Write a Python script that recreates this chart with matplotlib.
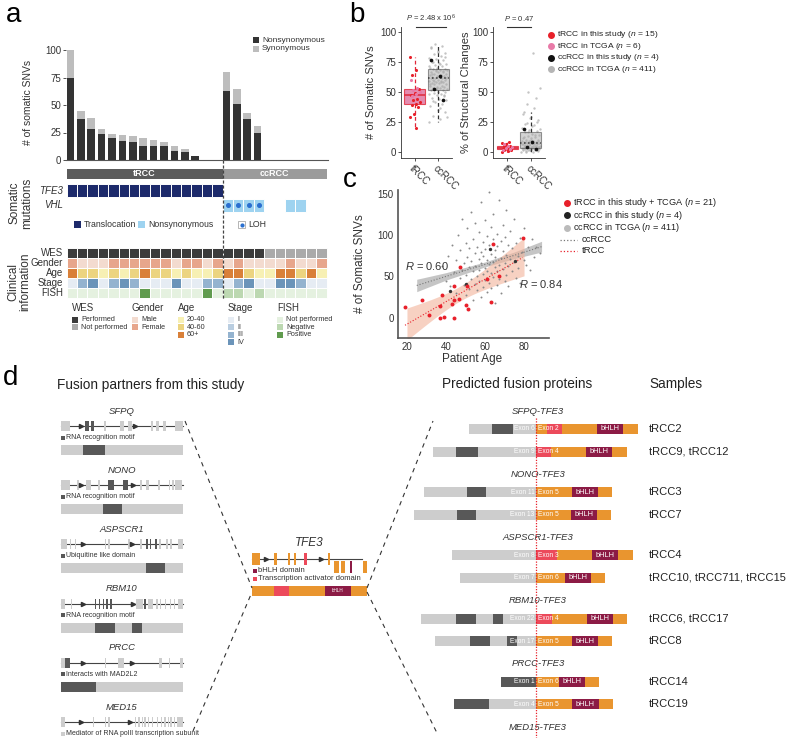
import numpy as np
import matplotlib
matplotlib.use("Agg")
import matplotlib.pyplot as plt
from matplotlib.patches import Rectangle

plt.rcParams['font.family'] = ['Liberation Sans', 'DejaVu Sans']
plt.rcParams['mathtext.fontset'] = 'custom'
plt.rcParams['mathtext.rm'] = 'Liberation Sans'
plt.rcParams['mathtext.it'] = 'Liberation Sans:italic'

# ---------------- panel a data ----------------
nonsyn = [75, 37, 28, 24, 20, 17, 16, 13, 13, 13, 8, 7, 4, 0, 0,
          63, 51, 37, 25, 0, 0, 0, 0, 0, 0]
syn = [25, 8, 10, 4, 4, 6, 6, 7, 5, 3, 5, 3, 0, 0, 0,
       17, 14, 6, 6, 0, 0, 0, 0, 0, 0]
n_trcc = 15
tfe3_transloc = [1] * 15 + [0] * 10
vhl_nonsyn = [0] * 15 + [1, 1, 1, 1, 0, 0, 1, 1, 0, 0]
vhl_loh = [0] * 15 + [1, 1, 1, 1, 0, 0, 0, 0, 0, 0]
wes = [1] * 19 + [0] * 6
gender = list("FMMMFFFFFFMFFMF") + list("MFMMMMFMMF")
age_grp = [2, 1, 1, 0, 1, 0, 1, 2, 1, 1, 0, 1, 0, 0, 1,
           2, 2, 1, 0, 0, 2, 2, 1, 2, 0]
stage = [0, 2, 3, 0, 2, 3, 2, 0, 0, 0, 3, 0, 0, 2, 2,
         0, 2, 3, 0, 0, 3, 3, 2, 0, 0]
fish = [0, 0, 0, 0, 0, 0, 0, 2, 0, 0, 0, 0, 0, 2, 0,
        1, 1, 0, 1, 0, 0, 0, 0, 0, 0]

# ---------------- panel b data ----------------
tr_this_snv = [79, 68, 64, 52, 49, 47, 44, 43, 41, 40, 39, 37, 31, 29, 20]
tr_tcga_snv = [60, 53, 51, 50, 48, 46]
cc_this_snv = [76, 63, 52, 43]
cc_tcga_snv = [25, 27, 30, 33, 35, 38, 40, 41, 43, 44,
               45, 46, 47, 48, 48, 49, 50, 50, 51, 51,
               52, 52, 53, 53, 54, 54, 55, 55, 56, 56,
               57, 57, 58, 58, 59, 59, 60, 60, 60, 61,
               61, 61, 62, 62, 62, 63, 63, 64, 64, 65,
               65, 66, 66, 67, 67, 68, 68, 69, 69, 70,
               70, 71, 72, 73, 74, 75, 76, 77, 78, 80,
               81, 82, 84, 86, 88, 90, 29, 36, 42, 47,
               53, 56, 58, 59, 61, 63, 65, 66, 68, 71,
               73, 75, 79, 83, 87]
tr_this_sv = [0, 0.5, 1, 1, 2, 2, 3, 3, 3.5, 4, 4.5, 5, 6, 7, 8]
tr_tcga_sv = [1.5, 2.5, 3, 4, 5, 6.5]
cc_this_sv = [19, 8, 4, 2]
cc_tcga_sv = [0, 0, 0, 0.5, 1, 1, 1, 1.5, 2, 2,
              2, 2.5, 3, 3, 3, 3.5, 4, 4, 4, 4.5,
              5, 5, 5, 5.5, 6, 6, 6, 6.5, 7, 7,
              7.5, 8, 8, 8.5, 9, 9, 10, 10, 11, 11,
              12, 13, 14, 15, 16, 17, 18, 20, 22, 24,
              26, 29, 33, 45, 50, 53, 82, 0.5, 1, 1.5,
              2, 2.5, 3, 3.5, 4, 4.5, 5, 5.5, 6, 7,
              8, 9, 10, 12, 14, 16, 19, 21, 23, 25,
              28, 31, 36, 40]

# ---------------- panel c data ----------------
tr_age = [19, 27.8, 31.1, 36.8, 37.9, 36.9, 39, 43.1, 43.9, 44.1, 46.8,
          43.9, 47.2, 50.1, 51.1, 50.9, 61.2, 67.2, 63.1, 64.3, 79.3]
tr_snv = [12.5, 22, 3, 14, 27, 0, 0.5, 17, 21, 38, 23,
          0, 61, 15, 10, 38, 47, 50, 19, 89, 97]
ccs_age = [42, 50, 62.4, 75.2]
ccs_snv = [32, 41, 83, 69]
cc_age = [38, 40, 41, 42, 43, 44, 45, 45, 46, 47,
          47, 48, 48, 49, 49, 50, 50, 50, 51, 51,
          52, 52, 52, 53, 53, 53, 54, 54, 54, 55,
          55, 55, 55, 56, 56, 56, 57, 57, 57, 57,
          58, 58, 58, 58, 59, 59, 59, 59, 60, 60,
          60, 60, 61, 61, 61, 61, 62, 62, 62, 62,
          63, 63, 63, 63, 64, 64, 64, 64, 65, 65,
          65, 65, 66, 66, 66, 66, 67, 67, 67, 68,
          68, 68, 69, 69, 69, 70, 70, 70, 71, 71,
          71, 72, 72, 72, 73, 73, 74, 74, 75, 75,
          76, 76, 77, 77, 78, 78, 79, 80, 80, 81,
          82, 83, 84, 85, 86, 88]
cc_snv = [62, 45, 75, 38, 88, 55, 30, 70, 100, 48,
          82, 58, 120, 40, 66, 52, 90, 28, 73, 108,
          35, 61, 84, 47, 128, 69, 22, 56, 95, 41,
          78, 63, 115, 50, 86, 33, 71, 58, 104, 44,
          140, 66, 25, 80, 53, 92, 37, 75, 60, 118,
          46, 83, 70, 31, 99, 57, 65, 152, 42, 88,
          54, 77, 110, 36, 68, 95, 49, 125, 61, 82,
          18, 73, 56, 101, 40, 87, 64, 143, 47, 72,
          93, 30, 59, 112, 81, 66, 45, 98, 76, 52,
          130, 63, 88, 38, 71, 105, 57, 84, 68, 120,
          48, 90, 75, 60, 97, 42, 80, 70, 108, 64,
          86, 58, 95, 74, 85, 78]
cc_fit_age = [25, 40, 60, 75, 89]
cc_fit_mid = [39, 50, 64.5, 75.5, 86]
cc_fit_half = [7.5, 4.5, 3, 4, 6.5]

# ---------------- panel d data ----------------
partners = ['SFPQ', 'NONO', 'ASPSCR1', 'RBM10', 'PRCC', 'MED15']
partner_domain = ['RNA recognition motif', 'RNA recognition motif', 'Ubiquitine like domain',
                  'RNA recognition motif', 'Interacts with MAD2L2',
                  'Mediator of RNA polII transcription subunit']
partner_exons = [
    [(0, 7.6, 0), (19.6, 23.1, 1), (24.5, 27.7, 1), (35.3, 37.5, 0), (48.9, 51.6, 0),
     (55, 58.7, 0), (74.2, 75.5, 0), (78, 80.2, 0), (83.4, 86, 0), (93.5, 100, 0)],
    [(0, 7.6, 0), (13.6, 14.7, 0), (20.7, 24.5, 0), (30.7, 32, 0), (39.1, 43.5, 1),
     (51.1, 55.4, 1), (64.7, 66.8, 0), (70, 72.3, 0), (79.3, 81.5, 0), (88.6, 89.7, 0),
     (91.3, 92.4, 0), (93.5, 99, 0)],
    [(0, 4.9, 0), (7.6, 8.7, 0), (12, 13, 0), (36.1, 37.5, 0), (39.1, 40.2, 0),
     (55.4, 56.5, 0), (64.7, 66.3, 0), (70.1, 71.7, 1), (72.8, 74.2, 1), (77.2, 78.8, 1),
     (80.4, 82, 0), (86.4, 87.8, 0), (89.7, 91, 0), (95.9, 100, 0)],
    [(0, 3.5, 0), (8.2, 9, 0), (28, 29.3, 1), (31.3, 32.6, 1), (34.8, 35.9, 1),
     (37.5, 38.9, 1), (40.8, 42.1, 1), (62, 67.4, 0), (68.2, 70.1, 1), (71.5, 75.5, 0),
     (78.3, 79.6, 0), (81, 82.3, 0), (85, 86.4, 0), (89.1, 90.5, 0), (92.4, 93.8, 0),
     (95.9, 100, 0)],
    [(0, 3.8, 0), (3.8, 7.6, 1), (36.1, 37.5, 0), (47, 51.6, 0), (80.4, 82.6, 0),
     (88.6, 89.7, 0), (97.3, 100, 0)],
    [(0, 3.5, 0), (26.6, 27.4, 0), (36.1, 37.5, 0), (38.6, 40.2, 0), (60.6, 62, 0),
     (63.6, 64.7, 0), (66.3, 67.4, 0), (68.5, 69.6, 0), (71.2, 72.3, 0), (74.5, 75.5, 0),
     (78.8, 79.9, 0), (82, 83.1, 0), (84.8, 85.9, 0), (87.5, 88.6, 0), (89.7, 90.8, 0),
     (92.4, 93.5, 0), (95.1, 100, 0)],
]
partner_arrows = [[17, 60.5], [17, 59], [18.5, 58], [18, 59], [18.5, 58], [17, 56.5]]
partner_prot_dom = [[(18.7, 36.6)], [(35, 50.4)], [(70, 85.4)],
                    [(28.5, 44.7), (58.5, 66.7)], [(0, 29)], None]

tfe3_gene = [(0, 6.7, 'O', 0), (19, 21.9, 'O', 0), (31, 32.7, 'O', 0), (36.2, 37.9, 'O', 0),
             (45.2, 47.5, 'R', 0), (66.5, 68, 'O', 0), (71.7, 75.8, 'O', 1),
             (77.5, 81, 'O', 1), (84.8, 87.2, 'B', 1), (96.2, 100, 'O', 1)]
tfe3_protein = [('O', 19), ('R', 13.4), ('O', 30.9), ('B', 22.4), ('O', 14.3)]

fusion_names = ['SFPQ-TFE3', 'NONO-TFE3', 'ASPSCR1-TFE3', 'RBM10-TFE3', 'PRCC-TFE3', 'MED15-TFE3']
fusion_group = [0, 0, 1, 1, 2, 2, 3, 3, 4, 4]
fusion_samples = ['tRCC2', 'tRCC9, tRCC12', 'tRCC3', 'tRCC7', 'tRCC4',
                  'tRCC10, tRCC711, tRCC15', 'tRCC6, tRCC17', 'tRCC8', 'tRCC14', 'tRCC19']
partner_part = [
    [('L', 23), ('D', 21), ('L', 23)],
    [('L', 23), ('D', 22), ('L', 58)],
    [('L', 43), ('D', 19), ('L', 50)],
    [('L', 43), ('D', 19), ('L', 60)],
    [('L', 84)],
    [('L', 76)],
    [('L', 35), ('D', 20), ('L', 17), ('D', 10), ('L', 33)],
    [('L', 35), ('D', 20), ('L', 17), ('D', 10), ('L', 19)],
    [('D', 35)],
    [('D', 35), ('L', 47)],
]
tfe3_part = [
    [('O', 11), ('R', 15), ('O', 35), ('B', 26), ('O', 15)],
    [('R', 15), ('O', 35), ('B', 26), ('O', 15)],
    [('O', 36), ('B', 26), ('O', 14)],
    [('O', 35), ('B', 26), ('O', 14)],
    [('R', 21), ('O', 35), ('B', 26), ('O', 15)],
    [('O', 29), ('B', 26), ('O', 14)],
    [('R', 16), ('O', 35), ('B', 26), ('O', 14)],
    [('O', 36), ('B', 26), ('O', 14)],
    [('O', 23), ('B', 26), ('O', 14)],
    [('O', 36), ('B', 27), ('O', 14)],
]
partner_exon = ['Exon 6', 'Exon 9', 'Exon 11', 'Exon 13', 'Exon 8', 'Exon 7',
                'Exon 22', 'Exon 17', 'Exon 1', 'Exon 4']
tfe3_exon = ['Exon 2', 'Exon 4', 'Exon 5', 'Exon 5', 'Exon 3', 'Exon 6',
             'Exon 4', 'Exon 5', 'Exon 6', 'Exon 5']

# ---------------- colours ----------------
seg_col = {'L': '#cdcdcd', 'D': '#585858', 'O': '#e9952f', 'R': '#ec4a5b', 'B': '#8c1b45'}
wes_col = ['#aaaaaa', '#3b3b3b']
gender_col = {'M': '#f3dbcf', 'F': '#e7a68c'}
age_col = ['#f7f0b4', '#ecd480', '#d98039']
stage_col = ['#e6ecf3', '#b9cde0', '#94b3cf', '#6b94b9']
fish_col = ['#e5f1e0', '#bcd8b1', '#609b4e']
red, pink, gray = '#e8202a', '#e87aa8', '#b5b5b5'

fig = plt.figure(figsize=(7.9, 7.38), dpi=100)
ov = fig.add_axes([0, 0, 1, 1])
ov.set_xlim(0, 790)
ov.set_ylim(738, 0)
ov.axis('off')


def px_axes(l, t, r, b):
    return fig.add_axes([l / 790, 1 - b / 738, (r - l) / 790, (b - t) / 738])


def rect(x, y, w, h, c, **kw):
    ov.add_patch(Rectangle((x, y), w, h, facecolor=c, edgecolor=kw.pop('ec', 'none'), **kw))


# panel letters
for lab, (lx, ly) in {'a': (14, 15), 'b': (357, 15), 'c': (350, 180), 'd': (11, 378)}.items():
    ov.text(lx, ly, lab, fontsize=20, ha='center', va='center')

# ================= panel a =================
axa = px_axes(66, 44.5, 328, 160)
xb = np.arange(len(nonsyn))
axa.bar(xb, nonsyn, 0.72, color='#333333')
axa.bar(xb, syn, 0.72, bottom=nonsyn, color='#bdbdbd')
axa.set_xlim(-0.42, 24.77)
axa.set_ylim(0, 105)
axa.set_yticks([0, 25, 50, 75, 100])
axa.set_xticks([])
for s in ['top', 'right', 'left']:
    axa.spines[s].set_visible(False)
axa.spines['bottom'].set_color('#555555')
axa.spines['bottom'].set_linewidth(0.8)
axa.tick_params(axis='y', labelsize=7, length=2, width=0.6, pad=1.5, colors='#333333')
axa.set_ylabel('# of somatic SNVs', fontsize=7.5, color='#333333')
axa.yaxis.set_label_coords(-0.125, 0.5)
axa.patch.set_alpha(0)

rect(253, 37, 6, 6, '#333333')
rect(253, 46, 6, 6, '#bdbdbd')
ov.text(262, 40, 'Nonsynonymous', fontsize=6, va='center', color='#333333')
ov.text(262, 49, 'Synonymous', fontsize=6, va='center', color='#333333')

cx0, cw = 66.5, 10.4
ncol = len(nonsyn)
rect(cx0, 169, cw * n_trcc, 10, '#5b5b5b')
rect(cx0 + cw * n_trcc, 169, cw * (ncol - n_trcc), 10, '#9b9b9b')
ov.text(cx0 + cw * n_trcc / 2, 174, 'tRCC', color='white', fontsize=6.5,
        ha='center', va='center', fontweight='bold')
ov.text(cx0 + cw * (n_trcc + ncol) / 2, 174, 'ccRCC', color='white', fontsize=6.5,
        ha='center', va='center', fontweight='bold')

for i in range(ncol):
    x = cx0 + cw * i
    if tfe3_transloc[i]:
        rect(x, 184, cw, 13, '#1d2a6b', ec='white', lw=0.7)
    if vhl_nonsyn[i]:
        rect(x, 198.5, cw, 13, '#9ed3f0', ec='white', lw=0.7)
    if vhl_loh[i]:
        ov.plot(x + cw / 2, 205, 'o', ms=2.6, color='#2a6fd0')
    rows = [wes_col[wes[i]], gender_col[gender[i]], age_col[age_grp[i]],
            stage_col[stage[i]], fish_col[fish[i]]]
    for r, c in enumerate(rows):
        rect(x, 248 + 10 * r, cw, 10, c, ec='white', lw=0.7)

ov.text(63, 190.5, 'TFE3', fontsize=7, style='italic', ha='right', va='center', color='#333333')
ov.text(63, 205, 'VHL', fontsize=7, style='italic', ha='right', va='center', color='#333333')
for r, lab in enumerate(['WES', 'Gender', 'Age', 'Stage', 'FISH']):
    ov.text(63, 253 + 10 * r, lab, fontsize=7, ha='right', va='center', color='#333333')
ov.text(21, 203, 'Somatic\nmutations', rotation=90, fontsize=8.5, ha='center', va='center',
        linespacing=1.0, color='#333333')
ov.text(19, 282, 'Clinical\ninformation', rotation=90, fontsize=8.5, ha='center', va='center',
        linespacing=1.0, color='#333333')

# somatic legend
rect(74, 221, 7, 7, '#1d2a6b')
ov.text(84, 224.5, 'Translocation', fontsize=6.3, va='center', color='#333333')
rect(138, 221, 7, 7, '#9ed3f0')
ov.text(148, 224.5, 'Nonsynonymous', fontsize=6.3, va='center', color='#333333')
rect(238, 221, 7, 7, 'white', ec='#999999', lw=0.5)
ov.plot(241.5, 224.5, 'o', ms=2, color='#2a6fd0')
ov.text(248, 224.5, 'LOH', fontsize=6.3, va='center', color='#333333')

ov.plot([cx0 + cw * n_trcc] * 2, [160, 300], color='#444444', lw=0.9, ls=(0, (2.5, 1.5)))

# clinical legend
leg_blocks = [
    ('WES', 72, ['Performed', 'Not performed'], [wes_col[1], wes_col[0]]),
    ('Gender', 132, ['Male', 'Female'], [gender_col['M'], gender_col['F']]),
    ('Age', 178, ['20-40', '40-60', '60+'], age_col),
    ('Stage', 228, ['I', 'II', 'III', 'IV'], stage_col),
    ('FISH', 277, ['Not performed', 'Negative', 'Positive'], fish_col),
]
for title, lx, labs, cols in leg_blocks:
    ov.text(lx, 308, title, fontsize=7, va='center', color='#333333')
    for k, (lab, c) in enumerate(zip(labs, cols)):
        yy = 319.5 + 7.6 * k
        rect(lx, yy - 3, 6, 6, c)
        ov.text(lx + 9, yy, lab, fontsize=5.2, va='center', color='#333333')

# ================= panel b =================
def jitter(n, spread):
    return ((np.arange(n) * 0.618034) % 1 - 0.5) * spread


def draw_box(ax, vals, pos, face, edge, med_ls, alpha, whis):
    ax.boxplot([vals], positions=[pos], widths=0.9, whis=whis, showfliers=False,
               showcaps=False, patch_artist=True, zorder=3,
               boxprops=dict(facecolor=face, edgecolor=edge, lw=0.8, alpha=alpha),
               medianprops=dict(color=edge, lw=1.1, ls=med_ls),
               whiskerprops=dict(color=edge, lw=0.9, ls=(0, (3, 2))))


def panel_b(ax, tr_this, tr_tcga, cc_this, cc_tcga, ylabel, ptxt, bx0, bx1, ylx, whis, trface):
    ax.scatter(2 + jitter(len(cc_tcga), 0.8), cc_tcga, s=3, color=gray, alpha=0.8,
               lw=0, zorder=2)
    draw_box(ax, list(tr_this) + list(tr_tcga), 1, trface, '#e0283a', '-', 0.8, whis)
    draw_box(ax, list(cc_this) + list(cc_tcga), 2, '#a8a8a8', '#333333', ':', 0.5, whis)
    ax.scatter(1 + jitter(len(tr_this), 0.45), tr_this, s=5, color=red, lw=0, zorder=4)
    ax.scatter(1 + jitter(len(tr_tcga), 0.45) + 0.05, tr_tcga, s=5, color=pink, lw=0, zorder=4)
    ax.scatter(2 + jitter(len(cc_this), 0.6), cc_this, s=7, color='#111111', lw=0, zorder=5)
    ax.set_xlim(0.4, 2.6)
    ax.set_ylim(-5.25, 103.9)
    ax.set_yticks([0, 25, 50, 75, 100])
    ax.set_xticks([1, 2])
    ax.set_xticklabels(['tRCC', 'ccRCC'], rotation=-45, ha='left', va='top',
                       rotation_mode='anchor')
    for s in ['top', 'right']:
        ax.spines[s].set_visible(False)
    for s in ['left', 'bottom']:
        ax.spines[s].set_linewidth(0.6)
        ax.spines[s].set_color('#333333')
    ax.tick_params(labelsize=7, length=2, width=0.6, pad=1.5, colors='#333333')
    ax.set_ylabel(ylabel, fontsize=8, color='#333333')
    ax.yaxis.set_label_coords(ylx, 0.5)
    ax.plot([bx0, bx1], [104, 104], color='#333333', lw=0.8, clip_on=False)
    ax.text((bx0 + bx1) / 2, 111, ptxt, fontsize=5.5, ha='center', va='center',
            color='#333333', clip_on=False)
    ax.patch.set_alpha(0)


axb1 = px_axes(401, 27, 452, 158)
panel_b(axb1, tr_this_snv, tr_tcga_snv, cc_this_snv, cc_tcga_snv, '# of Somatic SNVs',
        r'$\it{P}$ = 2.48 x 10$^{6}$', 1.05, 2.35, -0.5, (0, 100), '#de6f9c')
axb2 = px_axes(493, 27, 545, 158)
panel_b(axb2, tr_this_sv, tr_tcga_sv, cc_this_sv, cc_tcga_sv, '% of Structural Changes',
        r'$\it{P}$ = 0.47', 1.0, 2.0, -0.42, 1.5, '#e6506a')

leg_b = [(red, r'tRCC in this study ($\it{n}$ = 15)'), (pink, r'tRCC in TCGA ($\it{n}$ = 6)'),
         ('#111111', r'ccRCC in this study ($\it{n}$ = 4)'),
         (gray, r'ccRCC in TCGA ($\it{n}$ = 411)')]
for k, (c, lab) in enumerate(leg_b):
    yy = 34.5 + 11.6 * k
    ov.plot(551, yy, 'o', ms=4, color=c)
    ov.text(557, yy, lab, fontsize=6.1, va='center', color='#222222')

# ================= panel c =================
axc = px_axes(398, 190, 549, 338)
axc.fill_between(cc_fit_age, np.subtract(cc_fit_mid, cc_fit_half),
                 np.add(cc_fit_mid, cc_fit_half), color='#8c8c8c', alpha=0.5, lw=0, zorder=1)
ta, ts = np.array(tr_age), np.array(tr_snv)
slope, icpt = np.polyfit(ta, ts, 1)
resid = ts - (slope * ta + icpt)
s_err = np.sqrt(np.sum(resid ** 2) / (len(ta) - 2))
xx = np.linspace(20, 80, 60)
half = 2.09 * s_err * np.sqrt(1 / len(ta) + (xx - ta.mean()) ** 2 / np.sum((ta - ta.mean()) ** 2))
yy = slope * xx + icpt
axc.fill_between(xx, yy - half, yy + half, color='#f2b39a', alpha=0.6, lw=0, zorder=1)
axc.scatter(cc_age, cc_snv, s=2, color='#8a8a8a', lw=0, zorder=2)
axc.plot(cc_fit_age, cc_fit_mid, color='#777777', lw=0.8, ls=':', zorder=3)
axc.plot([ta.min(), ta.max()], [slope * ta.min() + icpt, slope * ta.max() + icpt],
         color=red, lw=0.8, ls=':', zorder=3)
axc.scatter(ccs_age, ccs_snv, s=6, color='#333333', lw=0, zorder=4)
axc.scatter(tr_age, tr_snv, s=8, color=red, lw=0, zorder=5)
axc.set_xlim(15.4, 92.8)
axc.set_ylim(-24.6, 154.6)
axc.set_xticks([20, 40, 60, 80])
axc.set_yticks([0, 50, 100, 150])
for s in ['top', 'right']:
    axc.spines[s].set_visible(False)
for s in ['left', 'bottom']:
    axc.spines[s].set_linewidth(1.2)
    axc.spines[s].set_color('#555555')
axc.tick_params(labelsize=7, length=0, pad=3, colors='#333333')
axc.set_ylabel('# of Somatic SNVs', fontsize=8.5, color='#333333')
axc.yaxis.set_label_coords(-0.21, 0.5)
axc.set_xlabel('Patient Age', fontsize=8.5, color='#333333')
axc.xaxis.set_label_coords(0.49, -0.1)
axc.text(19, 62.6, r'$\it{R}$ = 0.60', fontsize=8, va='center', color='#333333')
axc.text(77.4, 40.8, r'$\it{R}$ = 0.84', fontsize=8, va='center', color='#333333')
axc.patch.set_alpha(0)

leg_c = [(red, r'tRCC in this study + TCGA ($\it{n}$ = 21)'),
         ('#222222', r'ccRCC in this study ($\it{n}$ = 4)'),
         ('#bbbbbb', r'ccRCC in TCGA ($\it{n}$ = 411)')]
for k, (c, lab) in enumerate(leg_c):
    yy = 202.5 + 12.6 * k
    ov.plot(567, yy, 'o', ms=4, color=c)
    ov.text(573, yy, lab, fontsize=6.6, va='center', color='#222222')
for k, (c, lab) in enumerate([('#777777', 'ccRCC'), (red, 'tRCC')]):
    yy = 239.5 + 11 * k
    ov.plot([560, 577], [yy, yy], color=c, lw=0.9, ls=':')
    ov.text(582, yy, lab, fontsize=6.8, va='center', color='#222222')

# ================= panel d =================
ov.text(57, 385, 'Fusion partners from this study', fontsize=9.8, va='center', color='#222222')
ov.text(442, 384, 'Predicted fusion proteins', fontsize=9.8, va='center', color='#222222')
ov.text(649, 384, 'Samples', fontsize=9.8, va='center', color='#222222')


def draw_track(x0, x1, yc, exons, arrows, h=10, line_end=100):
    span = x1 - x0
    ov.plot([x0, x0 + line_end / 100 * span], [yc, yc], color='#444444', lw=0.8, zorder=1)
    for ex in exons:
        a, b, k = ex[0], ex[1], ex[2]
        lvl = ex[3] if len(ex) > 3 else 0
        c = seg_col[k] if isinstance(k, str) else ('#585858' if k else '#cdcdcd')
        rect(x0 + a / 100 * span, yc - h / 2 + lvl * 8, (b - a) / 100 * span, h, c, zorder=2)
    for a in arrows:
        ov.plot(x0 + a / 100 * span, yc, marker='>', ms=3, color='#333333', zorder=3)


gx0, gx1 = 60.5, 183
for i, name in enumerate(partners):
    y0 = 411 + 59.2 * i
    ov.text((gx0 + gx1) / 2, y0, name, fontsize=6.8, style='italic', ha='center', va='center',
            color='#333333')
    draw_track(gx0, gx1, y0 + 15, partner_exons[i], partner_arrows[i])
    dcol = '#cdcdcd' if partner_prot_dom[i] is None else '#585858'
    rect(gx0, y0 + 24.5, 4, 4, dcol)
    ov.text(gx0 + 6, y0 + 26.5, partner_domain[i], fontsize=5, va='center', color='#333333')
    if partner_prot_dom[i] is not None:
        span = gx1 - gx0
        rect(gx0, y0 + 34, span, 10, '#cdcdcd')
        for a, b in partner_prot_dom[i]:
            rect(gx0 + a / 100 * span, y0 + 34, (b - a) / 100 * span, 10, '#585858')

# TFE3 centre
tx0, tx1 = 252, 367
ov.text((tx0 + tx1) / 2, 543, 'TFE3', fontsize=8.5, style='italic', ha='center', va='center',
        color='#333333')
draw_track(tx0, tx1, 559, tfe3_gene, [12.5, 60], h=12, line_end=96)
rect(tx0 + 1, 568.5, 4, 4, seg_col['B'])
ov.text(tx0 + 6, 570.5, 'bHLH domain', fontsize=5.5, va='center', color='#333333')
rect(tx0 + 1, 577, 4, 4, seg_col['R'])
ov.text(tx0 + 6, 579, 'Transcription activator domain', fontsize=5.5, va='center',
        color='#333333')
xx0 = tx0
for k, L in tfe3_protein:
    w = L / 100 * (tx1 - tx0)
    rect(xx0, 586, w, 10, seg_col[k])
    if k == 'B':
        ov.text(xx0 + w / 2, 591, 'bHLH', fontsize=3.3, color='white', ha='center', va='center')
    xx0 += w

dash = (0, (4, 4))
ov.plot([185, tx0], [421, 588], color='#333333', lw=0.8, ls=dash)
ov.plot([193, tx0], [731, 592], color='#333333', lw=0.8, ls=dash)
ov.plot([tx1, 433], [588, 421], color='#333333', lw=0.8, ls=dash)
ov.plot([tx1, 438], [592, 735], color='#333333', lw=0.8, ls=dash)

# fusion proteins
bp = 536
for g, name in enumerate(fusion_names):
    ov.text(bp + 2, 411 + 63.2 * g, name, fontsize=6.8, style='italic', ha='center',
            va='center', color='#333333')
row_in_grp = {}
for r in range(len(fusion_samples)):
    g = fusion_group[r]
    k = row_in_grp.get(g, 0)
    row_in_grp[g] = k + 1
    yc = 411 + 63.2 * g + 18 + 22.5 * k
    x = bp - sum(L for _, L in partner_part[r])
    for kind, L in partner_part[r] + tfe3_part[r]:
        rect(x, yc - 5, L, 10, seg_col[kind])
        if kind == 'B':
            ov.text(x + L / 2, yc, 'bHLH', fontsize=5.3, color='white', ha='center',
                    va='center')
        x += L
    ov.text(bp - 1.5, yc, partner_exon[r], fontsize=4.8, color='white', ha='right', va='center')
    ov.text(bp + 1.5, yc, tfe3_exon[r], fontsize=4.8, color='white', ha='left', va='center')
    ov.text(649, yc, fusion_samples[r], fontsize=8, va='center', color='#222222')
ov.plot([bp, bp], [418, 738], color='#e8202a', lw=0.9, ls=(0, (1, 1.2)), zorder=5)

fig.savefig('out.png', dpi=100)
